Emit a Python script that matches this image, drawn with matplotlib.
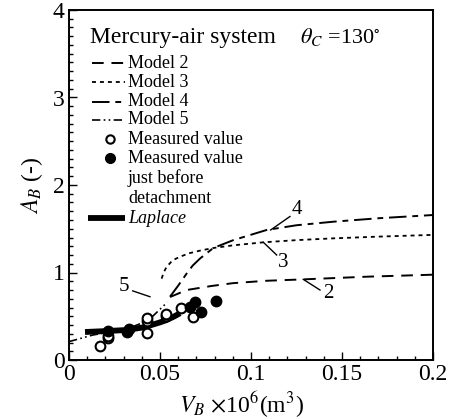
import matplotlib
matplotlib.use("Agg")
import matplotlib.pyplot as plt
from matplotlib.ticker import MultipleLocator, FixedLocator, FixedFormatter

plt.rcParams['font.family'] = ['Liberation Serif', 'DejaVu Serif']
plt.rcParams['mathtext.fontset'] = 'stix'

# ---- data ----
m2_x = [0.0555, 0.0647, 0.078, 0.090, 0.108, 0.127, 0.1636, 0.2]
m2_y = [0.72, 0.80, 0.845, 0.878, 0.905, 0.92, 0.952, 0.975]

m3_x = [0.0509, 0.0520, 0.0537, 0.057, 0.061, 0.066, 0.072, 0.0793, 0.09, 0.1068, 0.125, 0.145, 0.17, 0.2]
m3_y = [0.93, 1.00, 1.067, 1.14, 1.18, 1.22, 1.25, 1.28, 1.31, 1.345, 1.37, 1.39, 1.41, 1.43]

m4_x = [0.0555, 0.0600, 0.0647, 0.068, 0.072, 0.0793, 0.0903, 0.1086, 0.125, 0.145, 0.17, 0.2]
m4_y = [0.724, 0.85, 0.99, 1.08, 1.16, 1.28, 1.37, 1.486, 1.54, 1.58, 1.62, 1.657]

m5_x = [0.0, 0.013, 0.025, 0.035, 0.042, 0.046, 0.050, 0.054]
m5_y = [0.21, 0.285, 0.33, 0.38, 0.44, 0.50, 0.58, 0.66]

lap_x = [0.0088, 0.020, 0.0317, 0.040, 0.0445, 0.0500, 0.0537, 0.058, 0.061]
lap_y = [0.32, 0.33, 0.343, 0.37, 0.395, 0.43, 0.457, 0.50, 0.535]

open_x = [0.017, 0.0216, 0.0216, 0.0427, 0.0427, 0.0427, 0.0533, 0.0533, 0.0617, 0.068]
open_y = [0.16, 0.248, 0.27, 0.31, 0.45, 0.48, 0.50, 0.53, 0.59, 0.49]

fill_x = [0.0216, 0.0317, 0.0330, 0.0665, 0.0692, 0.0723, 0.0808]
fill_y = [0.335, 0.32, 0.36, 0.61, 0.667, 0.55, 0.674]

labels_txt = ["2", "3", "4", "5"]
label_pos = [(0.1425, 0.76), (0.1176, 1.11), (0.125, 1.72), (0.0302, 0.835)]
leader_start = [(0.1287, 0.922), (0.1068, 1.345), (0.1108, 1.486), (0.0445, 0.723)]
leader_end = [(0.1379, 0.80), (0.1141, 1.20), (0.1214, 1.64), (0.0350, 0.79)]

legend_labels = ["Model 2", "Model 3", "Model 4", "Model 5", "Measured value",
                 "Measured value", "just before", "detachment", "Laplace"]

xticks = [0, 0.05, 0.1, 0.15, 0.2]
xticklabels = ["0", "0.05", "0.1", "0.15", "0.2"]
yticks = [0, 1, 2, 3, 4]

# ---- styles ----
st2 = dict(color='black', lw=1.4, dashes=(6, 4))
st3 = dict(color='black', lw=1.3, dashes=(2.2, 2.2))
st4 = dict(color='black', lw=1.4, dashes=(9, 3, 3, 3))
st5 = dict(color='black', lw=1.2, dashes=(5, 2, 1, 2, 1, 2))
stL = dict(color='black', lw=4.2, solid_capstyle='butt')

fig = plt.figure(figsize=(4.59, 4.19), dpi=100)
ax = fig.add_axes([69/459, 59/419, 364/459, 350/419])

ax.plot(m2_x, m2_y, **st2)
ax.plot(m3_x, m3_y, **st3)
ax.plot(m4_x, m4_y, **st4)
ax.plot(m5_x, m5_y, **st5)
ax.plot(lap_x, lap_y, **stL)
ax.plot(open_x, open_y, 'o', ms=7, mfc='white', mec='black', mew=1.5)
ax.plot(fill_x, fill_y, 'o', ms=7.5, mfc='black', mec='black')

for t, p, s, e in zip(labels_txt, label_pos, leader_start, leader_end):
    ax.plot([s[0], e[0]], [s[1], e[1]], color='black', lw=1.0)
    ax.text(p[0], p[1], t, fontsize=15, ha='center', va='center')

ax.set_xlim(0, 0.2)
ax.set_ylim(0, 4)
ax.xaxis.set_major_locator(FixedLocator(xticks))
ax.xaxis.set_major_formatter(FixedFormatter(xticklabels))
ax.xaxis.set_minor_locator(MultipleLocator(0.01))
ax.yaxis.set_major_locator(FixedLocator(yticks))
ax.yaxis.set_minor_locator(MultipleLocator(0.1))
ax.tick_params(which='both', direction='in', top=False, right=False, labelsize=17, width=1.0)
ax.tick_params(which='major', length=6, pad=3)
ax.tick_params(which='minor', length=3)
for sp in ax.spines.values():
    sp.set_linewidth(1.4)

ax.set_ylabel(r'$A_B$ (-)', fontsize=17, labelpad=6)
ax.set_xlabel(r'$V_B$ $\times$10$^6$(m$^3$)', fontsize=17, labelpad=2)
ax.xaxis.set_label_coords(0.475, -0.085)

tr = ax.transAxes
ax.text(0.058, 0.906, 'Mercury-air system', transform=tr, fontsize=17, va='baseline')
ax.text(0.635, 0.906, r'$\theta_C$ =130$^{\circ}$', transform=tr, fontsize=16, va='baseline')

rows = [0.848, 0.793, 0.738, 0.686, 0.631, 0.576, 0.519, 0.462, 0.405]
hx0, hx1, tx = 0.063, 0.154, 0.162
for st, y in zip([st2, st3, st4, st5], rows[:4]):
    ax.plot([hx0, hx1], [y, y], transform=tr, **st)
ax.plot([0.113], [rows[4]], 'o', transform=tr, ms=6, mfc='white', mec='black', mew=1.5)
ax.plot([0.113], [rows[5]], 'o', transform=tr, ms=7, mfc='black', mec='black')
ax.plot([hx0 - 0.01, hx1], [rows[8], rows[8]], transform=tr, **stL)
for i, (lab, y) in enumerate(zip(legend_labels, rows)):
    ax.text(tx, y, lab, transform=tr, fontsize=13, va='center',
            style='italic' if lab == 'Laplace' else 'normal')

fig.savefig('out.png', dpi=100)
